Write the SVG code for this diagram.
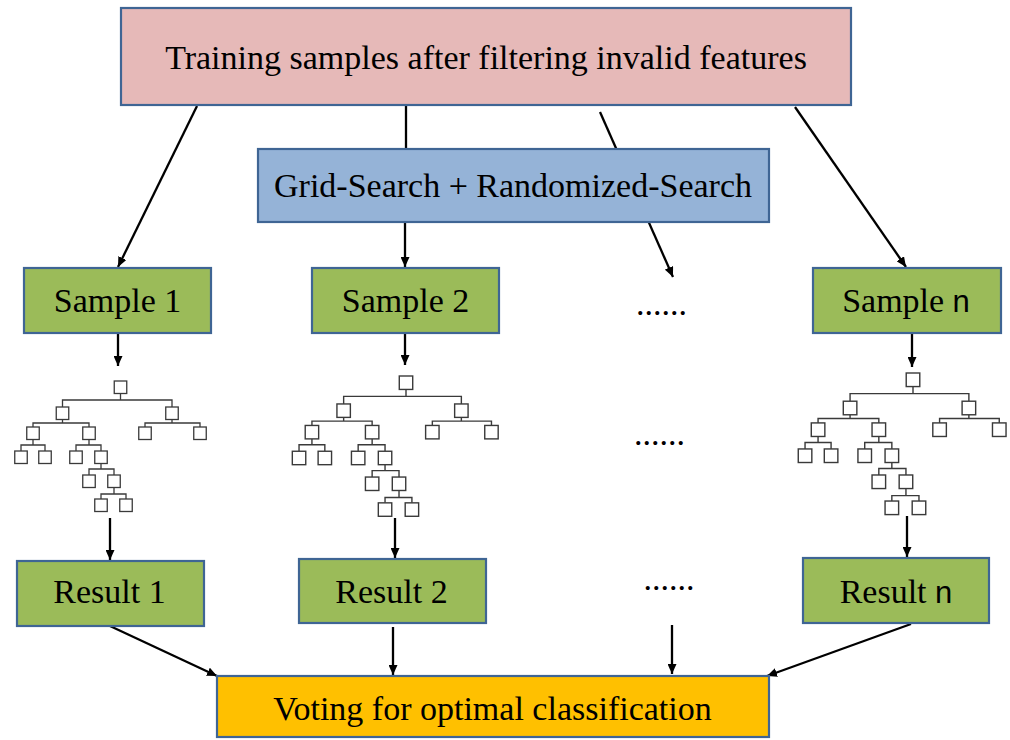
<svg xmlns="http://www.w3.org/2000/svg" xmlns:xlink="http://www.w3.org/1999/xlink" width="1010" height="740" viewBox="0 0 1010 740">
<style>
.box{stroke:#3F6594;stroke-width:2.2}
.t{font-family:"Liberation Serif","Times New Roman",serif;font-size:34px;fill:#000;text-anchor:middle}
.sn{font-family:"Liberation Sans",Arial,sans-serif;font-size:31px}
.c{stroke:#000;stroke-width:2.3;fill:none}
.tb{fill:#fff;stroke:#3a3a3a;stroke-width:1.3}
.tl{fill:none;stroke:#3a3a3a;stroke-width:1.3}
</style>
<defs>
<marker id="ah" markerUnits="userSpaceOnUse" markerWidth="10" markerHeight="9" refX="10" refY="4.5" orient="auto">
<path d="M0,0 L10,4.5 L0,9 z" fill="#000"/>
</marker>
<g id="tree">
<path class="tl" d="M0,12.5V19 M-58,26V19H51.5V26 M-58,38.5V42 M-87.5,46V42H-31.5V46 M51.5,38.5V42 M24.5,46V42H79.5V46 M-87.5,58.5V64 M-99.5,70V64H-75.5V70 M-31.5,58.5V64 M-44.5,70V64H-19.5V70 M-19.5,82.5V88 M-31.5,94V88H-6.5V94 M-6.5,106.5V113 M-19.5,118V113H5.5V118"/>
<rect class="tb" x="-6.25" y="0" width="12.5" height="12.5"/>
<rect class="tb" x="-64.25" y="26" width="12.5" height="12.5"/>
<rect class="tb" x="45.25" y="26" width="12.5" height="12.5"/>
<rect class="tb" x="-93.75" y="46" width="12.5" height="12.5"/>
<rect class="tb" x="-37.75" y="46" width="12.5" height="12.5"/>
<rect class="tb" x="18.25" y="46" width="12.5" height="12.5"/>
<rect class="tb" x="73.25" y="46" width="12.5" height="12.5"/>
<rect class="tb" x="-105.75" y="70" width="12.5" height="12.5"/>
<rect class="tb" x="-81.75" y="70" width="12.5" height="12.5"/>
<rect class="tb" x="-50.75" y="70" width="12.5" height="12.5"/>
<rect class="tb" x="-25.75" y="70" width="12.5" height="12.5"/>
<rect class="tb" x="-37.75" y="94" width="12.5" height="12.5"/>
<rect class="tb" x="-12.75" y="94" width="12.5" height="12.5"/>
<rect class="tb" x="-25.75" y="118" width="12.5" height="12.5"/>
<rect class="tb" x="-0.75" y="118" width="12.5" height="12.5"/>
</g>
</defs>
<rect width="1010" height="740" fill="#fff"/>
<g id="connectors">
<path class="c" d="M197,106 L118,267" marker-end="url(#ah)"/>
<path class="c" d="M406,106 V149"/>
<path class="c" d="M405,222 V267" marker-end="url(#ah)"/>
<path class="c" d="M600,112 L673,277" marker-end="url(#ah)"/>
<path class="c" d="M795,107 L906,267" marker-end="url(#ah)"/>
<path class="c" d="M118,333 V366" marker-end="url(#ah)"/>
<path class="c" d="M405,333 V365" marker-end="url(#ah)"/>
<path class="c" d="M912,333 V367" marker-end="url(#ah)"/>
<path class="c" d="M110,518 V560" marker-end="url(#ah)"/>
<path class="c" d="M395,518 V558" marker-end="url(#ah)"/>
<path class="c" d="M907,516 V557" marker-end="url(#ah)"/>
<path class="c" d="M110,626 L217,676" marker-end="url(#ah)"/>
<path class="c" d="M393,627 V675" marker-end="url(#ah)"/>
<path class="c" d="M672,625 V674" marker-end="url(#ah)"/>
<path class="c" d="M911,624 L767,676" marker-end="url(#ah)"/>
</g>
<g id="training">
<rect class="box" x="121" y="8" width="730" height="97" fill="#E6B9B8"/>
<text class="t" x="486" y="69" font-size="35.3">Training samples after filtering invalid features</text>
</g>
<g id="search">
<rect class="box" x="258" y="149" width="511" height="73" fill="#95B3D7"/>
<text class="t" x="513" y="197">Grid-Search + Randomized-Search</text>
</g>
<g id="sample1">
<rect class="box" x="24" y="268" width="187" height="65" fill="#9BBB59"/>
<text class="t" x="117.5" y="312">Sample 1</text>
</g>
<g id="sample2">
<rect class="box" x="312" y="268" width="187" height="65" fill="#9BBB59"/>
<text class="t" x="405.5" y="312">Sample 2</text>
</g>
<g id="samplen">
<rect class="box" x="813" y="268" width="188" height="65" fill="#9BBB59"/>
<text class="t" x="906" y="312">Sample <tspan class="sn">n</tspan></text>
</g>
<g id="dots1"><text class="t" x="661.5" y="315">......</text></g>
<g id="tree1"><use xlink:href="#tree" href="#tree" transform="translate(120.5,381)"/></g>
<g id="tree2"><use xlink:href="#tree" href="#tree" transform="translate(406,376) scale(1.075)"/></g>
<g id="treen"><use xlink:href="#tree" href="#tree" transform="translate(913,373) scale(1.085)"/></g>
<g id="dots2"><text class="t" x="659.5" y="445">......</text></g>
<g id="result1">
<rect class="box" x="17" y="561" width="187" height="65" fill="#9BBB59"/>
<text class="t" x="109.5" y="603">Result 1</text>
</g>
<g id="result2">
<rect class="box" x="299" y="559" width="187" height="64" fill="#9BBB59"/>
<text class="t" x="391.5" y="603">Result 2</text>
</g>
<g id="dots3"><text class="t" x="669" y="590">......</text></g>
<g id="resultn">
<rect class="box" x="803" y="558" width="186" height="65" fill="#9BBB59"/>
<text class="t" x="896" y="603">Result <tspan class="sn">n</tspan></text>
</g>
<g id="voting">
<rect class="box" x="217" y="676" width="552" height="61" fill="#FFC000"/>
<text class="t" x="492.5" y="720">Voting for optimal classification</text>
</g>
</svg>
